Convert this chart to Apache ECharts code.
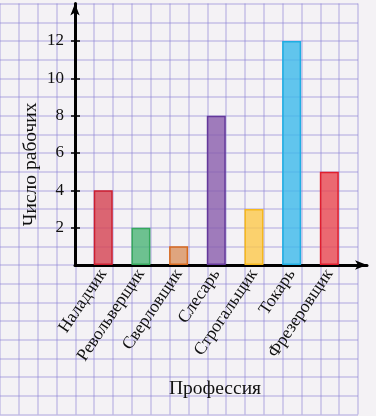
<!DOCTYPE html>
<html>
<head>
<meta charset="utf-8">
<script src="https://cdn.jsdelivr.net/npm/echarts@6/dist/echarts.min.js"></script>
<style>
  html, body { margin: 0; padding: 0; }
  #chart { width: 376px; height: 416px; }
</style>
</head>
<body>
<div id="chart"></div>
<script>
// профессии и число рабочих
const categories = ['Наладчик', 'Револьверщик', 'Сверловщик', 'Слесарь', 'Строгальщик', 'Токарь', 'Фрезеровщик'];
const workers = [4, 2, 1, 8, 3, 12, 5];
const yTicks = [2, 4, 6, 8, 10, 12];
const positions = [1, 2, 3, 4, 5, 6, 7];

// заливка и обводка столбиков
const fills = ['rgba(214,70,85,0.82)', 'rgba(70,180,115,0.78)', 'rgba(215,135,80,0.72)', 'rgba(135,90,170,0.78)',
  'rgba(252,200,70,0.78)', 'rgba(60,185,235,0.8)', 'rgba(232,70,80,0.8)'];
const borders = ['#cc1f30', '#35a85c', '#d86a1e', '#64389a', '#f6b81c', '#1eaee2', '#e01e2e'];

const chart = echarts.init(document.getElementById('chart'));
const serif = 'Liberation Serif';

const option = {
  backgroundColor: '#f4f2f5',
  animation: false,
  grid: [
    // тетрадная клетка
    { left: 0, right: 18, top: 3.6, bottom: 1.6 },
    // сама диаграмма
    { left: 75, right: 9, top: 3.6, bottom: 151 }
  ],
  xAxis: [
    {
      gridIndex: 0, type: 'value', min: 0, max: 19, interval: 1, silent: true,
      axisLine: { show: false }, axisTick: { show: false }, axisLabel: { show: false },
      splitLine: { lineStyle: { color: 'rgba(140,130,215,0.45)', width: 1.5 } }
    },
    {
      gridIndex: 1, type: 'value', min: 0.25, max: 8,
      name: 'Профессия', nameLocation: 'middle', nameGap: 114,
      nameTextStyle: { fontFamily: serif, fontSize: 19.5, color: '#111', padding: [0, 12, 0, 0] },
      axisLine: { lineStyle: { color: '#000', width: 3 }, symbol: ['none', 'arrow'], symbolSize: [7, 12] },
      axisTick: { show: false },
      splitLine: { show: false },
      axisLabel: {
        customValues: positions,
        formatter: v => categories[v - 1],
        rotate: 56, margin: 6,
        fontFamily: serif, fontSize: 17.5, color: '#111'
      }
    }
  ],
  yAxis: [
    {
      gridIndex: 0, type: 'value', min: 0, max: 22, interval: 1, silent: true,
      axisLine: { show: false }, axisTick: { show: false }, axisLabel: { show: false },
      splitLine: { lineStyle: { color: 'rgba(140,130,215,0.45)', width: 1.5 } }
    },
    {
      gridIndex: 1, type: 'value', min: 0, max: 14, position: 'left',
      name: 'Число рабочих', nameLocation: 'middle', nameGap: 34, nameMoveOverlap: false,
      nameTextStyle: { fontFamily: serif, fontSize: 19.5, color: '#111', padding: [0, 60, 0, 0] },
      axisLine: { lineStyle: { color: '#000', width: 3 }, symbol: ['none', 'arrow'], symbolSize: [7, 12] },
      axisTick: { customValues: yTicks, length: 4, lineStyle: { color: '#000', width: 1.5 } },
      splitLine: { show: false },
      axisLabel: { customValues: yTicks, margin: 11, fontFamily: serif, fontSize: 17, color: '#111' }
    },
    {
      // засечки внутрь
      gridIndex: 1, type: 'value', min: 0, max: 14, position: 'left',
      axisLine: { show: false },
      axisTick: { customValues: yTicks, inside: true, length: 5, lineStyle: { color: '#000', width: 1.5 } },
      axisLabel: { show: false },
      splitLine: { show: false }
    }
  ],
  series: [{
    type: 'bar',
    xAxisIndex: 1,
    yAxisIndex: 1,
    barWidth: 19,
    data: workers.map((v, i) => ({
      value: [positions[i], v],
      itemStyle: { color: fills[i], borderColor: borders[i], borderWidth: 1.5 }
    }))
  }]
};

chart.setOption(option);
</script>
</body>
</html>
